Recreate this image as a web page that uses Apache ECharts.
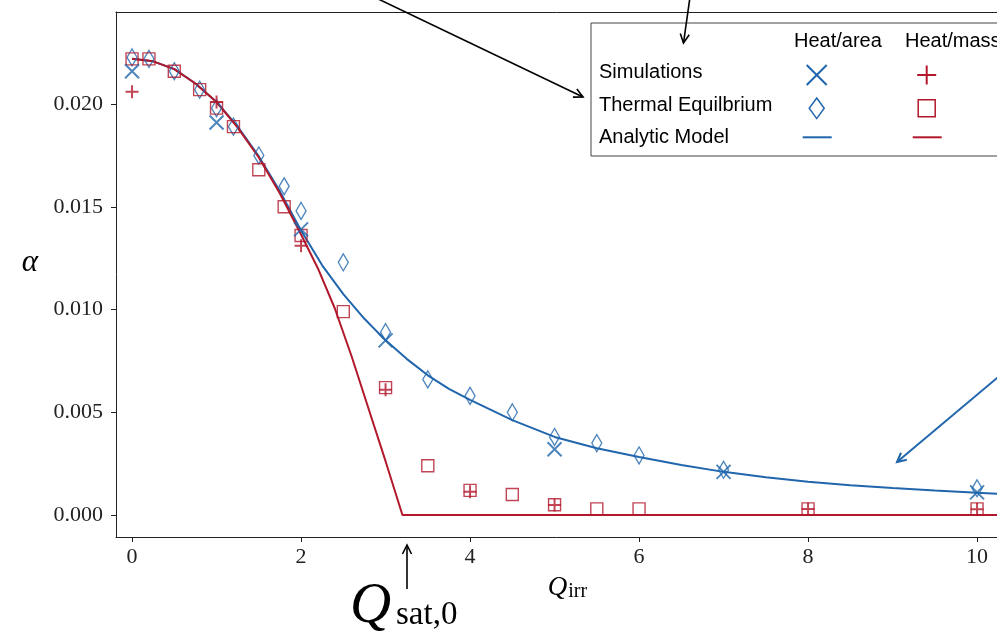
<!DOCTYPE html>
<html>
<head>
<meta charset="utf-8">
<script src="https://cdn.jsdelivr.net/npm/echarts@6/dist/echarts.min.js"></script>
<style>
html,body{margin:0;padding:0;background:#fff;}
#chart{width:997px;height:635px;}
</style>
</head>
<body>
<div id="chart"></div>
<script>
// ---- data ----
const xTicks = [0, 2, 4, 6, 8, 10];
const yTicks = [0, 0.005, 0.010, 0.015, 0.020];

// Analytic model, heat/area (blue)
const modelAreaX = [0, 0.25, 0.5, 0.75, 1.0, 1.25, 1.5, 1.75, 2.0, 2.25, 2.5, 2.75, 3.0, 3.25, 3.5, 3.75, 4.0, 4.5, 5.0, 5.5, 6.0, 6.5, 7.0, 7.5, 8.0, 8.5, 9.0, 9.5, 10.0, 10.5];
const modelAreaY = [0.02220, 0.02208, 0.02170, 0.02100, 0.02010, 0.01890, 0.01745, 0.01575, 0.01385, 0.01215, 0.01075, 0.00955, 0.00850, 0.00760, 0.00680, 0.00614, 0.00560, 0.00462, 0.00380, 0.00325, 0.00282, 0.00243, 0.00210, 0.00184, 0.00162, 0.00145, 0.00131, 0.00119, 0.00108, 0.00099];

// Analytic model, heat/mass (red)
const modelMassX = [0, 0.25, 0.5, 0.75, 1.0, 1.25, 1.5, 1.75, 2.0, 2.2, 2.4, 2.6, 2.8, 3.0, 3.2, 10.5];
const modelMassY = [0.02220, 0.02208, 0.02170, 0.02100, 0.02010, 0.01885, 0.01740, 0.01565, 0.01365, 0.01200, 0.01005, 0.00770, 0.00516, 0.00262, 0.0, 0.0];

// Simulations, heat/area (blue x)
const simAreaX = [0, 1, 2, 3, 5, 7, 10];
const simAreaY = [0.0216, 0.0191, 0.0139, 0.0085, 0.0032, 0.0021, 0.0011];

// Simulations, heat/mass (red +)
const simMassX = [0, 1, 2, 3, 4, 5, 8, 10];
const simMassY = [0.0206, 0.0201, 0.0131, 0.0061, 0.00113, 0.00049, 0.00029, 0.00028];

// Thermal equilibrium, heat/area (blue diamonds)
const eqAreaX = [0, 0.2, 0.5, 0.8, 1.0, 1.2, 1.5, 1.8, 2.0, 2.5, 3.0, 3.5, 4.0, 4.5, 5.0, 5.5, 6.0, 7.0, 10.0];
const eqAreaY = [0.02227, 0.0222, 0.0216, 0.0207, 0.0198, 0.0189, 0.0175, 0.0160, 0.0148, 0.0123, 0.0089, 0.0066, 0.0058, 0.0050, 0.0038, 0.0035, 0.0029, 0.0022, 0.0013];

// Thermal equilibrium, heat/mass (red squares)
const eqMassX = [0, 0.2, 0.5, 0.8, 1.0, 1.2, 1.5, 1.8, 2.0, 2.5, 3.0, 3.5, 4.0, 4.5, 5.0, 5.5, 6.0, 8.0, 10.0];
const eqMassY = [0.0222, 0.0222, 0.0216, 0.0207, 0.0198, 0.0189, 0.0168, 0.0150, 0.0136, 0.0099, 0.0062, 0.0024, 0.0012, 0.0010, 0.0005, 0.0003, 0.0003, 0.0003, 0.0003];

const legendRows = ['Simulations', 'Thermal Equilbrium', 'Analytic Model'];
const legendCols = ['Heat/area', 'Heat/mass'];

// ---- styling ----
const BLUE = '#2166ac';
const RED = '#b2182b';
const INK = '#222';
const SERIF = '"Liberation Serif", "DejaVu Serif", serif';
const SANS = '"Liberation Sans", Arial, sans-serif';
const X_MIN = -0.19, X_MAX = 10.236;
const Y_MIN = -0.00107, Y_MAX = 0.02448;

const zip = (xs, ys) => xs.map((x, i) => [x, ys[i]]);

const X_PATH = 'path://M0,0L10,10M10,0L0,10';
const PLUS_PATH = 'path://M5,0L5,10M0,5L10,5';

function arrow(x1, y1, x2, y2, color, lw) {
  const dx = x2 - x1, dy = y2 - y1, L = Math.hypot(dx, dy);
  const ux = dx / L, uy = dy / L;
  const hl = 9, hw = 4.5;
  const bx = x2 - ux * hl, by = y2 - uy * hl;
  const px = -uy, py = ux;
  return [
    { type: 'line', z: 100, shape: { x1, y1, x2, y2 }, style: { stroke: color, lineWidth: lw } },
    { type: 'polyline', z: 100, shape: { points: [[bx + px * hw, by + py * hw], [x2, y2], [bx - px * hw, by - py * hw]] },
      style: { stroke: color, lineWidth: lw, fill: null } }
  ];
}

// Legend table (drawn as graphic elements)
const legTop = 23, legLeft = 591;
const colX = [816.7, 926.7];
const rowY = [72, 105, 137];
const legend = [
  { type: 'rect', z: 90, shape: { x: legLeft, y: legTop, width: 480, height: 133 },
    style: { fill: '#fff', stroke: '#444', lineWidth: 1 } },
  { type: 'text', z: 101, style: { x: 794, y: 41, text: legendCols[0], font: '20px ' + SANS, fill: '#000', verticalAlign: 'middle', align: 'left' } },
  { type: 'text', z: 101, style: { x: 905, y: 41, text: legendCols[1], font: '20px ' + SANS, fill: '#000', verticalAlign: 'middle', align: 'left' } },
];
legendRows.forEach((t, i) => {
  legend.push({ type: 'text', z: 101, style: { x: 599, y: rowY[i], text: t, font: '20px ' + SANS, fill: '#000', verticalAlign: 'middle', align: 'left' } });
});
const cx0 = colX[0], cx1 = colX[1];
legend.push(
  { type: 'line', z: 101, shape: { x1: cx0 - 10, y1: 65, x2: cx0 + 10, y2: 85 }, style: { stroke: BLUE, lineWidth: 2 } },
  { type: 'line', z: 101, shape: { x1: cx0 + 10, y1: 65, x2: cx0 - 10, y2: 85 }, style: { stroke: BLUE, lineWidth: 2 } },
  { type: 'line', z: 101, shape: { x1: cx1 - 9.5, y1: 75, x2: cx1 + 9.5, y2: 75 }, style: { stroke: RED, lineWidth: 2 } },
  { type: 'line', z: 101, shape: { x1: cx1, y1: 65.5, x2: cx1, y2: 84.5 }, style: { stroke: RED, lineWidth: 2 } },
  { type: 'polygon', z: 101, shape: { points: [[cx0, 98], [cx0 + 7.5, 108.3], [cx0, 118.6], [cx0 - 7.5, 108.3]] }, style: { stroke: BLUE, fill: null, lineWidth: 1.5 } },
  { type: 'rect', z: 101, shape: { x: cx1 - 8.5, y: 108.3 - 8.5, width: 17, height: 17 }, style: { stroke: RED, fill: null, lineWidth: 1.5 } },
  { type: 'line', z: 101, shape: { x1: 802.7, y1: 137.3, x2: 831.7, y2: 137.3 }, style: { stroke: BLUE, lineWidth: 2 } },
  { type: 'line', z: 101, shape: { x1: 912.7, y1: 137.3, x2: 941.7, y2: 137.3 }, style: { stroke: RED, lineWidth: 2 } }
);

const annotations = [].concat(
  arrow(372, -4, 583, 97, '#000', 1.6),
  arrow(690, -3, 683.5, 43, '#000', 1.6),
  arrow(1003, 373, 897, 462, BLUE, 2),
  arrow(407, 589, 407, 545, '#000', 1.6),
  [
    { type: 'text', z: 101, style: { x: 350, y: 607, text: 'Q', font: 'italic 57px ' + SERIF, fill: '#000', verticalAlign: 'middle', align: 'left' } },
    { type: 'text', z: 101, style: { x: 396, y: 615, text: 'sat,0', font: '33px ' + SERIF, fill: '#000', verticalAlign: 'middle', align: 'left' } }
  ]
);

const chart = echarts.init(document.getElementById('chart'), null, { renderer: 'canvas' });
chart.setOption({
  animation: false,
  backgroundColor: '#fff',
  grid: { left: 116, top: 12, right: 0, bottom: 98, show: false, containLabel: false },
  xAxis: [{
    type: 'value', min: X_MIN, max: X_MAX,
    name: '{sp| }{q|Q}{s|irr}', nameLocation: 'middle', nameGap: 36,
    nameTextStyle: {
      rich: {
        sp: { width: 22, fontSize: 10 },
        q: { fontFamily: SERIF, fontStyle: 'italic', fontSize: 27, color: '#000' },
        s: { fontFamily: SERIF, fontSize: 20, color: '#000', padding: [9, 0, 0, 1] }
      }
    },
    axisLine: { onZero: false, lineStyle: { color: INK, width: 1 } },
    axisTick: { show: true, customValues: xTicks, length: 5, lineStyle: { color: INK } },
    axisLabel: { customValues: xTicks, margin: 9, fontFamily: SERIF, fontSize: 22, color: '#222' },
    splitLine: { show: false }
  }, {
    type: 'value', position: 'top', min: X_MIN, max: X_MAX,
    axisLine: { show: true, onZero: false, lineStyle: { color: INK, width: 1 } },
    axisTick: { show: false }, axisLabel: { show: false }, splitLine: { show: false }
  }],
  yAxis: {
    type: 'value', min: Y_MIN, max: Y_MAX,
    name: '{a|α}\n{b| }', nameLocation: 'middle', nameRotate: 0, nameGap: 78,
    nameTextStyle: {
      rich: {
        a: { fontFamily: SERIF, fontStyle: 'italic', fontSize: 31, lineHeight: 28, color: '#000' },
        b: { fontSize: 10, lineHeight: 24 }
      }
    },
    axisLine: { onZero: false, lineStyle: { color: INK, width: 1 } },
    axisTick: { show: true, customValues: yTicks, length: 5, lineStyle: { color: INK } },
    axisLabel: { customValues: yTicks, margin: 13, fontFamily: SERIF, fontSize: 22, color: '#222',
      formatter: v => v.toFixed(3) },
    splitLine: { show: false }
  },
  series: [
    { type: 'line', data: zip(modelAreaX, modelAreaY), showSymbol: false, symbol: 'none', z: 2,
      lineStyle: { color: BLUE, width: 2 } },
    { type: 'line', data: zip(modelMassX, modelMassY), showSymbol: false, symbol: 'none', z: 2,
      lineStyle: { color: RED, width: 2 } },
    { type: 'scatter', data: zip(eqAreaX, eqAreaY), symbol: 'diamond', symbolSize: [10, 17], z: 3,
      itemStyle: { color: 'rgba(0,0,0,0)', borderColor: BLUE, borderWidth: 1.4 } },
    { type: 'scatter', data: zip(eqMassX, eqMassY), symbol: 'rect', symbolSize: 12, z: 4,
      itemStyle: { color: 'rgba(0,0,0,0)', borderColor: RED, borderWidth: 1.4 } },
    { type: 'scatter', data: zip(simAreaX, simAreaY), symbol: X_PATH, symbolSize: 14, z: 5,
      itemStyle: { color: 'rgba(0,0,0,0)', borderColor: BLUE, borderWidth: 2 } },
    { type: 'scatter', data: zip(simMassX, simMassY), symbol: PLUS_PATH, symbolSize: 13, z: 5,
      itemStyle: { color: 'rgba(0,0,0,0)', borderColor: RED, borderWidth: 2 } }
  ],
  graphic: legend.concat(annotations)
});
</script>
</body>
</html>
